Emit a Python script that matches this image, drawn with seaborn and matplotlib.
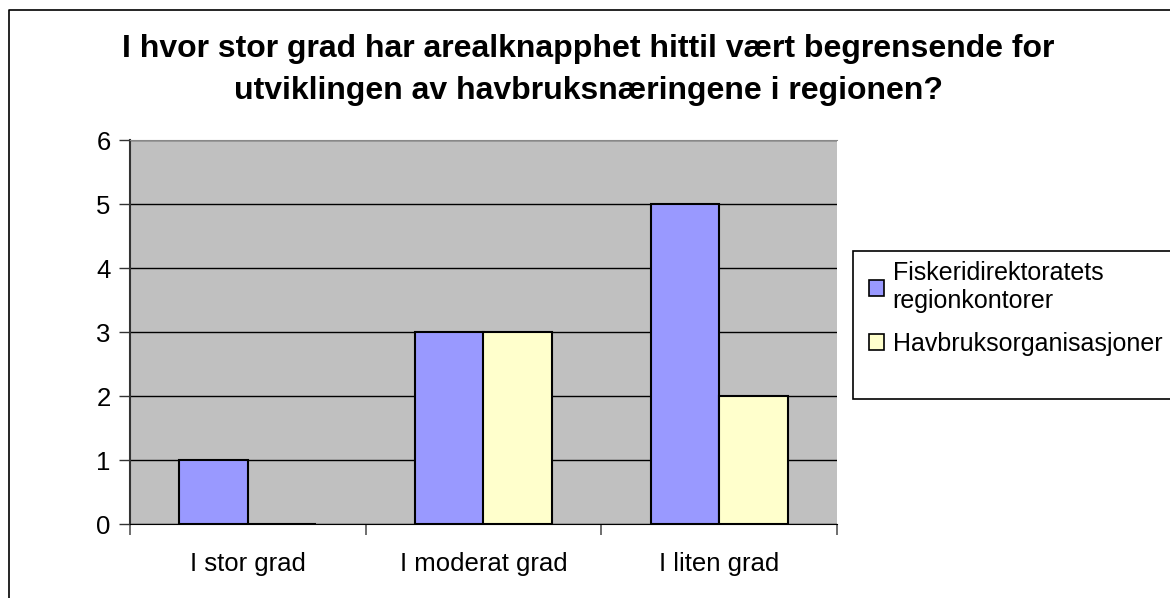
import numpy as np
import pandas as pd
import seaborn as sns
import matplotlib.pyplot as plt
from matplotlib.patches import Rectangle
from matplotlib.lines import Line2D

kategorier = ['I stor grad', 'I moderat grad', 'I liten grad']
fiskeri = [1, 3, 5]
havbruk = [0, 3, 2]
serier = ['Fiskeridirektoratets\nregionkontorer', 'Havbruksorganisasjoner']
farger = ['#9999FF', '#FFFFCC']

df = pd.DataFrame({'kategori': kategorier * 2,
                   'antall': fiskeri + havbruk,
                   'serie': [serier[0]] * 3 + [serier[1]] * 3})

sns.set_style('white')
plt.rcParams['font.family'] = ['Liberation Sans', 'DejaVu Sans']
plt.rcParams['text.color'] = 'black'
plt.rcParams['xtick.color'] = 'black'
plt.rcParams['ytick.color'] = 'black'

fig = plt.figure(figsize=(11.7, 5.98), dpi=100)
ax = fig.add_axes([130 / 1170, 1 - 524 / 598, 707 / 1170, 384 / 598])
ax.set_facecolor('#C0C0C0')

sns.barplot(data=df, x='kategori', y='antall', hue='serie', palette=farger,
            saturation=1, width=0.58, edgecolor='black', linewidth=1.5, ax=ax, zorder=3)

ax.set_ylim(0, 6)
ax.set_xlim(-0.5, 2.5)
ax.set_yticks(range(0, 7))
ax.yaxis.grid(True, color='black', linewidth=1.0, zorder=1)
ax.set_axisbelow(True)
ax.set_xlabel('')
ax.set_ylabel('')
ax.tick_params(axis='y', labelsize=18.5, length=8, width=1, color='#333333', left=True, pad=6)
ax.tick_params(axis='x', which='major', labelsize=18.5, length=0, pad=20)
ax.set_xticks([-0.5, 0.5, 1.5, 2.5], minor=True)
ax.tick_params(axis='x', which='minor', length=8, width=1.2, color='#555555', bottom=True)
ax.spines['right'].set_visible(False)
ax.spines['top'].set_color('#888888')
ax.spines['left'].set_color('#333333')
ax.spines['left'].set_linewidth(1.5)
ax.spines['bottom'].set_color('black')

fig.suptitle('I hvor stor grad har arealknapphet hittil vært begrensende for\n'
             'utviklingen av havbruksnæringene i regionen?',
             x=0.503, y=0.943, fontsize=23, fontweight='bold', linespacing=1.53)

ax.get_legend().remove()
handles = [Rectangle((0, 0), 1, 1, facecolor=c, edgecolor='black', linewidth=1.2) for c in farger]
fig.patches.append(Rectangle((853 / 1170, 1 - 399 / 598), 0.3, 148 / 598,
                             transform=fig.transFigure, facecolor='white',
                             edgecolor='black', linewidth=1.2))
fig.legend(handles, serier, loc='upper left', bbox_to_anchor=(859 / 1170, 1 - 251 / 598),
           frameon=False, fontsize=18, handlelength=0.6, handleheight=0.6,
           handletextpad=0.35, labelspacing=0.75, borderaxespad=0)

# ramme rundt hele diagrammet (kun topp og venstre synlig)
fig.lines.append(Line2D([9 / 1170, 9 / 1170, 1.0], [0, 1 - 10 / 598, 1 - 10 / 598],
                        transform=fig.transFigure, color='black', linewidth=1.2))

fig.savefig('out.png', dpi=100)
